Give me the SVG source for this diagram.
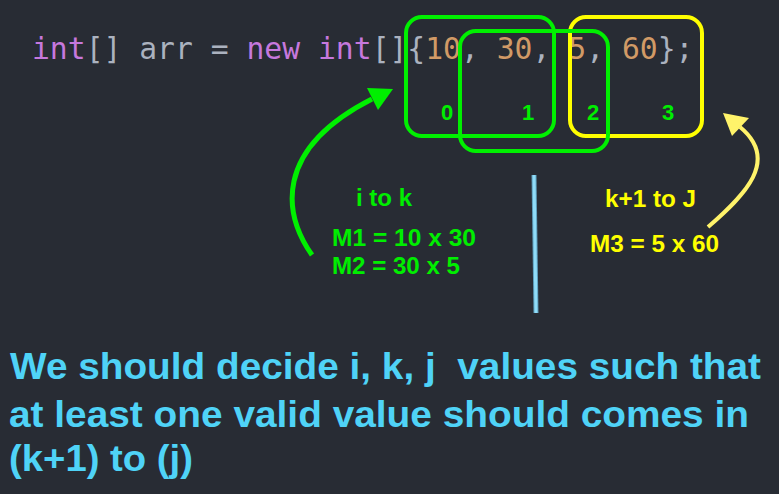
<svg xmlns="http://www.w3.org/2000/svg" width="779" height="494" viewBox="0 0 779 494">
<style>
.code{font-family:"DejaVu Sans Mono","Liberation Mono",monospace;font-size:29.7px}
.kw{fill:#c678dd}.pn{fill:#abb2bf}.nm{fill:#d19a66}
.lbl{font-family:"Liberation Sans",Arial,sans-serif;font-weight:bold}
.g{fill:#00ee00}.y{fill:#ffff00}
.box{fill:none;stroke-width:4}
.bot{font-family:"Liberation Sans",Arial,sans-serif;font-weight:bold;font-size:37.5px;fill:#4fd3f7}
</style>
<rect width="779" height="494" fill="#282c34"/>
<g id="code">
<text class="code" x="32" y="59" xml:space="preserve"><tspan class="kw">int</tspan><tspan class="pn">[] arr = </tspan><tspan class="kw">new</tspan><tspan class="pn"> </tspan><tspan class="kw">int</tspan><tspan class="pn">[]{</tspan><tspan class="nm">10</tspan><tspan class="pn">, </tspan><tspan class="nm">30</tspan><tspan class="pn">, </tspan><tspan class="nm">5</tspan><tspan class="pn">, </tspan><tspan class="nm">60</tspan><tspan class="pn">};</tspan></text>
</g>
<g id="box-yellow"><rect class="box" x="570" y="17" width="132" height="119" rx="16" stroke="#ffff00"/></g>
<g id="box-green-1"><rect class="box" x="406" y="17" width="148" height="119" rx="16" stroke="#00f000"/></g>
<g id="box-green-2"><rect class="box" x="460" y="31" width="148" height="120" rx="16" stroke="#00f000"/></g>
<g id="indices" class="lbl g" font-size="22" text-anchor="middle">
<text x="447" y="120">0</text>
<text x="528" y="120">1</text>
<text x="593" y="120">2</text>
<text x="668" y="120">3</text>
</g>
<g id="connectors">
<path d="M312,255 C284,215 272,150 372,99" fill="none" stroke="#00f000" stroke-width="5"/>
<polygon points="393,89 367,88 378,110" fill="#00f000"/>
<path d="M708,227 C745,195 780,160 740,127" fill="none" stroke="#fff36a" stroke-width="4"/>
<polygon points="723,113 749,118 732,136" fill="#fff36a"/>
<line x1="534" y1="175" x2="536" y2="313" stroke="#5f9fbd" stroke-width="5"/>
<line x1="534" y1="175" x2="536" y2="313" stroke="#8fdcf8" stroke-width="3"/>
</g>
<g id="left-note" class="lbl g">
<text x="356" y="206" font-size="23" textLength="56" lengthAdjust="spacingAndGlyphs">i to k</text>
<text x="332" y="246" font-size="24" textLength="144" lengthAdjust="spacingAndGlyphs">M1 = 10 x 30</text>
<text x="332" y="274" font-size="24" textLength="128" lengthAdjust="spacingAndGlyphs">M2 = 30 x 5</text>
</g>
<g id="right-note" class="lbl y">
<text x="605" y="207" font-size="24" textLength="91" lengthAdjust="spacingAndGlyphs">k+1 to J</text>
<text x="590" y="252" font-size="24.5" textLength="129" lengthAdjust="spacingAndGlyphs">M3 = 5 x 60</text>
</g>
<g id="note">
<text class="bot" x="10" y="379" textLength="751" lengthAdjust="spacingAndGlyphs" xml:space="preserve">We should decide i, k, j  values such that</text>
<text class="bot" x="9" y="427" textLength="740" lengthAdjust="spacingAndGlyphs">at least one valid value should comes in</text>
<text class="bot" x="9" y="471" textLength="184" lengthAdjust="spacingAndGlyphs">(k+1) to (j)</text>
</g>
</svg>
